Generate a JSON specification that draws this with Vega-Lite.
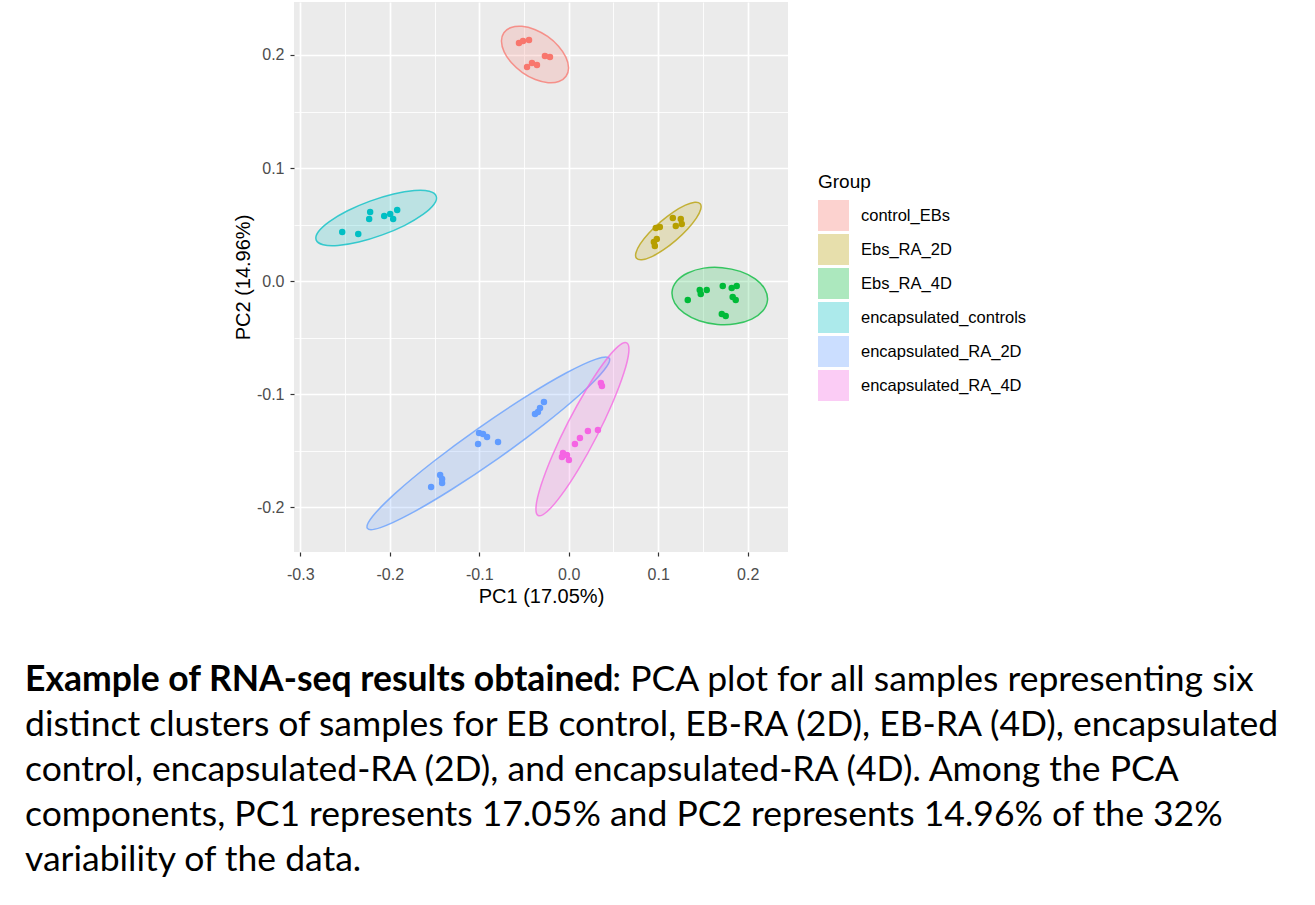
{
  "$schema": "https://vega.github.io/schema/vega-lite/v6.json",
  "autosize": {"type": "pad"},
  "padding": {"left": 25, "top": 2, "right": 0, "bottom": 0},
  "background": "white",
  "config": {"view": {"stroke": null}, "font": "Liberation Sans"},
  "bounds": "flush",
  "center": true,
  "spacing": 116,
  "datasets": {
    "points": [
      {"Group": "control_EBs", "PC1": -0.0556, "PC2": 0.2106},
      {"Group": "control_EBs", "PC1": -0.0511, "PC2": 0.2124},
      {"Group": "control_EBs", "PC1": -0.0444, "PC2": 0.2133},
      {"Group": "control_EBs", "PC1": -0.0266, "PC2": 0.1991},
      {"Group": "control_EBs", "PC1": -0.0210, "PC2": 0.1982},
      {"Group": "control_EBs", "PC1": -0.0466, "PC2": 0.1894},
      {"Group": "control_EBs", "PC1": -0.0411, "PC2": 0.1929},
      {"Group": "control_EBs", "PC1": -0.0355, "PC2": 0.1912},
      {"Group": "Ebs_RA_2D", "PC1": 0.0973, "PC2": 0.0469},
      {"Group": "Ebs_RA_2D", "PC1": 0.1018, "PC2": 0.0478},
      {"Group": "Ebs_RA_2D", "PC1": 0.0951, "PC2": 0.0345},
      {"Group": "Ebs_RA_2D", "PC1": 0.0984, "PC2": 0.0372},
      {"Group": "Ebs_RA_2D", "PC1": 0.0962, "PC2": 0.0310},
      {"Group": "Ebs_RA_2D", "PC1": 0.1163, "PC2": 0.0558},
      {"Group": "Ebs_RA_2D", "PC1": 0.1252, "PC2": 0.0549},
      {"Group": "Ebs_RA_2D", "PC1": 0.1196, "PC2": 0.0487},
      {"Group": "Ebs_RA_2D", "PC1": 0.1263, "PC2": 0.0504},
      {"Group": "Ebs_RA_4D", "PC1": 0.1330, "PC2": -0.0168},
      {"Group": "Ebs_RA_4D", "PC1": 0.1464, "PC2": -0.0080},
      {"Group": "Ebs_RA_4D", "PC1": 0.1475, "PC2": -0.0115},
      {"Group": "Ebs_RA_4D", "PC1": 0.1542, "PC2": -0.0080},
      {"Group": "Ebs_RA_4D", "PC1": 0.1721, "PC2": -0.0044},
      {"Group": "Ebs_RA_4D", "PC1": 0.1821, "PC2": -0.0062},
      {"Group": "Ebs_RA_4D", "PC1": 0.1877, "PC2": -0.0044},
      {"Group": "Ebs_RA_4D", "PC1": 0.1832, "PC2": -0.0142},
      {"Group": "Ebs_RA_4D", "PC1": 0.1866, "PC2": -0.0168},
      {"Group": "Ebs_RA_4D", "PC1": 0.1710, "PC2": -0.0292},
      {"Group": "Ebs_RA_4D", "PC1": 0.1754, "PC2": -0.0310},
      {"Group": "encapsulated_controls", "PC1": -0.2531, "PC2": 0.0434},
      {"Group": "encapsulated_controls", "PC1": -0.2352, "PC2": 0.0416},
      {"Group": "encapsulated_controls", "PC1": -0.2219, "PC2": 0.0611},
      {"Group": "encapsulated_controls", "PC1": -0.2230, "PC2": 0.0549},
      {"Group": "encapsulated_controls", "PC1": -0.2062, "PC2": 0.0575},
      {"Group": "encapsulated_controls", "PC1": -0.1995, "PC2": 0.0593},
      {"Group": "encapsulated_controls", "PC1": -0.1962, "PC2": 0.0549},
      {"Group": "encapsulated_controls", "PC1": -0.1917, "PC2": 0.0628},
      {"Group": "encapsulated_RA_2D", "PC1": -0.1538, "PC2": -0.1823},
      {"Group": "encapsulated_RA_2D", "PC1": -0.1437, "PC2": -0.1717},
      {"Group": "encapsulated_RA_2D", "PC1": -0.1415, "PC2": -0.1752},
      {"Group": "encapsulated_RA_2D", "PC1": -0.1415, "PC2": -0.1788},
      {"Group": "encapsulated_RA_2D", "PC1": -0.1002, "PC2": -0.1345},
      {"Group": "encapsulated_RA_2D", "PC1": -0.0958, "PC2": -0.1354},
      {"Group": "encapsulated_RA_2D", "PC1": -0.0913, "PC2": -0.1381},
      {"Group": "encapsulated_RA_2D", "PC1": -0.1013, "PC2": -0.1443},
      {"Group": "encapsulated_RA_2D", "PC1": -0.0790, "PC2": -0.1425},
      {"Group": "encapsulated_RA_2D", "PC1": -0.0377, "PC2": -0.1177},
      {"Group": "encapsulated_RA_2D", "PC1": -0.0344, "PC2": -0.1159},
      {"Group": "encapsulated_RA_2D", "PC1": -0.0321, "PC2": -0.1124},
      {"Group": "encapsulated_RA_2D", "PC1": -0.0277, "PC2": -0.1071},
      {"Group": "encapsulated_RA_4D", "PC1": 0.0359, "PC2": -0.0903},
      {"Group": "encapsulated_RA_4D", "PC1": 0.0371, "PC2": -0.0929},
      {"Group": "encapsulated_RA_4D", "PC1": 0.0326, "PC2": -0.1319},
      {"Group": "encapsulated_RA_4D", "PC1": 0.0214, "PC2": -0.1327},
      {"Group": "encapsulated_RA_4D", "PC1": 0.0125, "PC2": -0.1389},
      {"Group": "encapsulated_RA_4D", "PC1": 0.0069, "PC2": -0.1443},
      {"Group": "encapsulated_RA_4D", "PC1": -0.0065, "PC2": -0.1522},
      {"Group": "encapsulated_RA_4D", "PC1": -0.0076, "PC2": -0.1558},
      {"Group": "encapsulated_RA_4D", "PC1": -0.0020, "PC2": -0.1540},
      {"Group": "encapsulated_RA_4D", "PC1": 0.0002, "PC2": -0.1584}
    ],
    "ellipses": [
      {"Group": "control_EBs", "k": 0, "PC1": -0.0030, "PC2": 0.1812},
      {"Group": "control_EBs", "k": 1, "PC1": -0.0110, "PC2": 0.1765},
      {"Group": "control_EBs", "k": 2, "PC1": -0.0231, "PC2": 0.1755},
      {"Group": "control_EBs", "k": 3, "PC1": -0.0374, "PC2": 0.1783},
      {"Group": "control_EBs", "k": 4, "PC1": -0.0518, "PC2": 0.1845},
      {"Group": "control_EBs", "k": 5, "PC1": -0.0640, "PC2": 0.1931},
      {"Group": "control_EBs", "k": 6, "PC1": -0.0722, "PC2": 0.2028},
      {"Group": "control_EBs", "k": 7, "PC1": -0.0752, "PC2": 0.2122},
      {"Group": "control_EBs", "k": 8, "PC1": -0.0725, "PC2": 0.2197},
      {"Group": "control_EBs", "k": 9, "PC1": -0.0644, "PC2": 0.2244},
      {"Group": "control_EBs", "k": 10, "PC1": -0.0523, "PC2": 0.2254},
      {"Group": "control_EBs", "k": 11, "PC1": -0.0380, "PC2": 0.2226},
      {"Group": "control_EBs", "k": 12, "PC1": -0.0236, "PC2": 0.2164},
      {"Group": "control_EBs", "k": 13, "PC1": -0.0114, "PC2": 0.2078},
      {"Group": "control_EBs", "k": 14, "PC1": -0.0032, "PC2": 0.1981},
      {"Group": "control_EBs", "k": 15, "PC1": -0.0002, "PC2": 0.1887},
      {"Group": "Ebs_RA_2D", "k": 0, "PC1": 0.1469, "PC2": 0.0684},
      {"Group": "Ebs_RA_2D", "k": 1, "PC1": 0.1475, "PC2": 0.0635},
      {"Group": "Ebs_RA_2D", "k": 2, "PC1": 0.1426, "PC2": 0.0557},
      {"Group": "Ebs_RA_2D", "k": 3, "PC1": 0.1329, "PC2": 0.0461},
      {"Group": "Ebs_RA_2D", "k": 4, "PC1": 0.1200, "PC2": 0.0362},
      {"Group": "Ebs_RA_2D", "k": 5, "PC1": 0.1057, "PC2": 0.0275},
      {"Group": "Ebs_RA_2D", "k": 6, "PC1": 0.0923, "PC2": 0.0214},
      {"Group": "Ebs_RA_2D", "k": 7, "PC1": 0.0817, "PC2": 0.0188},
      {"Group": "Ebs_RA_2D", "k": 8, "PC1": 0.0757, "PC2": 0.0201},
      {"Group": "Ebs_RA_2D", "k": 9, "PC1": 0.0751, "PC2": 0.0250},
      {"Group": "Ebs_RA_2D", "k": 10, "PC1": 0.0799, "PC2": 0.0328},
      {"Group": "Ebs_RA_2D", "k": 11, "PC1": 0.0896, "PC2": 0.0424},
      {"Group": "Ebs_RA_2D", "k": 12, "PC1": 0.1025, "PC2": 0.0523},
      {"Group": "Ebs_RA_2D", "k": 13, "PC1": 0.1168, "PC2": 0.0610},
      {"Group": "Ebs_RA_2D", "k": 14, "PC1": 0.1303, "PC2": 0.0671},
      {"Group": "Ebs_RA_2D", "k": 15, "PC1": 0.1408, "PC2": 0.0697},
      {"Group": "Ebs_RA_4D", "k": 0, "PC1": 0.2221, "PC2": -0.0170},
      {"Group": "Ebs_RA_4D", "k": 1, "PC1": 0.2170, "PC2": -0.0263},
      {"Group": "Ebs_RA_4D", "k": 2, "PC1": 0.2045, "PC2": -0.0337},
      {"Group": "Ebs_RA_4D", "k": 3, "PC1": 0.1866, "PC2": -0.0379},
      {"Group": "Ebs_RA_4D", "k": 4, "PC1": 0.1660, "PC2": -0.0384},
      {"Group": "Ebs_RA_4D", "k": 5, "PC1": 0.1457, "PC2": -0.0351},
      {"Group": "Ebs_RA_4D", "k": 6, "PC1": 0.1290, "PC2": -0.0284},
      {"Group": "Ebs_RA_4D", "k": 7, "PC1": 0.1184, "PC2": -0.0195},
      {"Group": "Ebs_RA_4D", "k": 8, "PC1": 0.1154, "PC2": -0.0096},
      {"Group": "Ebs_RA_4D", "k": 9, "PC1": 0.1205, "PC2": -0.0002},
      {"Group": "Ebs_RA_4D", "k": 10, "PC1": 0.1330, "PC2": 0.0071},
      {"Group": "Ebs_RA_4D", "k": 11, "PC1": 0.1509, "PC2": 0.0114},
      {"Group": "Ebs_RA_4D", "k": 12, "PC1": 0.1715, "PC2": 0.0118},
      {"Group": "Ebs_RA_4D", "k": 13, "PC1": 0.1917, "PC2": 0.0085},
      {"Group": "Ebs_RA_4D", "k": 14, "PC1": 0.2084, "PC2": 0.0019},
      {"Group": "Ebs_RA_4D", "k": 15, "PC1": 0.2191, "PC2": -0.0071},
      {"Group": "encapsulated_controls", "k": 0, "PC1": -0.1481, "PC2": 0.0751},
      {"Group": "encapsulated_controls", "k": 1, "PC1": -0.1505, "PC2": 0.0679},
      {"Group": "encapsulated_controls", "k": 2, "PC1": -0.1628, "PC2": 0.0589},
      {"Group": "encapsulated_controls", "k": 3, "PC1": -0.1831, "PC2": 0.0493},
      {"Group": "encapsulated_controls", "k": 4, "PC1": -0.2083, "PC2": 0.0408},
      {"Group": "encapsulated_controls", "k": 5, "PC1": -0.2345, "PC2": 0.0345},
      {"Group": "encapsulated_controls", "k": 6, "PC1": -0.2578, "PC2": 0.0315},
      {"Group": "encapsulated_controls", "k": 7, "PC1": -0.2745, "PC2": 0.0321},
      {"Group": "encapsulated_controls", "k": 8, "PC1": -0.2823, "PC2": 0.0364},
      {"Group": "encapsulated_controls", "k": 9, "PC1": -0.2798, "PC2": 0.0436},
      {"Group": "encapsulated_controls", "k": 10, "PC1": -0.2675, "PC2": 0.0526},
      {"Group": "encapsulated_controls", "k": 11, "PC1": -0.2472, "PC2": 0.0622},
      {"Group": "encapsulated_controls", "k": 12, "PC1": -0.2220, "PC2": 0.0707},
      {"Group": "encapsulated_controls", "k": 13, "PC1": -0.1958, "PC2": 0.0770},
      {"Group": "encapsulated_controls", "k": 14, "PC1": -0.1726, "PC2": 0.0800},
      {"Group": "encapsulated_controls", "k": 15, "PC1": -0.1558, "PC2": 0.0794},
      {"Group": "encapsulated_RA_2D", "k": 0, "PC1": 0.0453, "PC2": -0.0683},
      {"Group": "encapsulated_RA_2D", "k": 1, "PC1": 0.0394, "PC2": -0.0790},
      {"Group": "encapsulated_RA_2D", "k": 2, "PC1": 0.0139, "PC2": -0.0996},
      {"Group": "encapsulated_RA_2D", "k": 3, "PC1": -0.0275, "PC2": -0.1269},
      {"Group": "encapsulated_RA_2D", "k": 4, "PC1": -0.0783, "PC2": -0.1567},
      {"Group": "encapsulated_RA_2D", "k": 5, "PC1": -0.1309, "PC2": -0.1845},
      {"Group": "encapsulated_RA_2D", "k": 6, "PC1": -0.1772, "PC2": -0.2061},
      {"Group": "encapsulated_RA_2D", "k": 7, "PC1": -0.2103, "PC2": -0.2182},
      {"Group": "encapsulated_RA_2D", "k": 8, "PC1": -0.2250, "PC2": -0.2189},
      {"Group": "encapsulated_RA_2D", "k": 9, "PC1": -0.2191, "PC2": -0.2082},
      {"Group": "encapsulated_RA_2D", "k": 10, "PC1": -0.1936, "PC2": -0.1877},
      {"Group": "encapsulated_RA_2D", "k": 11, "PC1": -0.1522, "PC2": -0.1604},
      {"Group": "encapsulated_RA_2D", "k": 12, "PC1": -0.1014, "PC2": -0.1306},
      {"Group": "encapsulated_RA_2D", "k": 13, "PC1": -0.0488, "PC2": -0.1028},
      {"Group": "encapsulated_RA_2D", "k": 14, "PC1": -0.0025, "PC2": -0.0812},
      {"Group": "encapsulated_RA_2D", "k": 15, "PC1": 0.0306, "PC2": -0.0691},
      {"Group": "encapsulated_RA_4D", "k": 0, "PC1": 0.0648, "PC2": -0.0548},
      {"Group": "encapsulated_RA_4D", "k": 1, "PC1": 0.0671, "PC2": -0.0631},
      {"Group": "encapsulated_RA_4D", "k": 2, "PC1": 0.0615, "PC2": -0.0817},
      {"Group": "encapsulated_RA_4D", "k": 3, "PC1": 0.0489, "PC2": -0.1079},
      {"Group": "encapsulated_RA_4D", "k": 4, "PC1": 0.0312, "PC2": -0.1376},
      {"Group": "encapsulated_RA_4D", "k": 5, "PC1": 0.0110, "PC2": -0.1664},
      {"Group": "encapsulated_RA_4D", "k": 6, "PC1": -0.0085, "PC2": -0.1897},
      {"Group": "encapsulated_RA_4D", "k": 7, "PC1": -0.0244, "PC2": -0.2042},
      {"Group": "encapsulated_RA_4D", "k": 8, "PC1": -0.0342, "PC2": -0.2075},
      {"Group": "encapsulated_RA_4D", "k": 9, "PC1": -0.0365, "PC2": -0.1992},
      {"Group": "encapsulated_RA_4D", "k": 10, "PC1": -0.0309, "PC2": -0.1806},
      {"Group": "encapsulated_RA_4D", "k": 11, "PC1": -0.0183, "PC2": -0.1544},
      {"Group": "encapsulated_RA_4D", "k": 12, "PC1": -0.0006, "PC2": -0.1247},
      {"Group": "encapsulated_RA_4D", "k": 13, "PC1": 0.0196, "PC2": -0.0960},
      {"Group": "encapsulated_RA_4D", "k": 14, "PC1": 0.0390, "PC2": -0.0726},
      {"Group": "encapsulated_RA_4D", "k": 15, "PC1": 0.0549, "PC2": -0.0581}
    ],
    "caption": [
      {"line": 1, "start": 0.569, "text": ": PCA plot for all samples representing six"},
      {"line": 2, "start": 0, "text": "distinct clusters of samples for EB control, EB-RA (2D), EB-RA (4D), encapsulated"},
      {"line": 3, "start": 0, "text": "control, encapsulated-RA (2D), and encapsulated-RA (4D). Among the PCA"},
      {"line": 4, "start": 0, "text": "components, PC1 represents 17.05% and PC2 represents 14.96% of the 32%"},
      {"line": 5, "start": 0, "text": "variability of the data."}
    ],
    "captionBold": [
      {"line": 1, "start": 0, "text": "Example of RNA-seq results obtained"}
    ]
  },
  "vconcat": [
    {
      "width": 494,
      "height": 550,
      "view": {"fill": "#EBEBEB", "stroke": null},
      "encoding": {
        "x": {
          "field": "PC1", "type": "quantitative",
          "scale": {"domain": [-0.307, 0.245], "nice": false, "zero": false},
          "axis": {
            "title": "PC1 (17.05%)",
            "values": [-0.3, -0.25, -0.2, -0.15, -0.1, -0.05, 0, 0.05, 0.1, 0.15, 0.2],
            "labelExpr": "abs(datum.value*10-round(datum.value*10))<0.001 ? replace(format(datum.value,'.1f'),'\u2212','-') : ''",
            "grid": true, "gridColor": "#FFFFFF",
            "gridWidth": {"condition": {"test": "abs(datum.value*10-round(datum.value*10))<0.001", "value": 1.7}, "value": 0.85},
            "tickColor": {"condition": {"test": "abs(datum.value*10-round(datum.value*10))<0.001", "value": "#333333"}, "value": "transparent"},
            "domain": false, "tickSize": 4, "tickWidth": 1.2,
            "labelFont": "Liberation Sans", "labelFontSize": 16, "labelColor": "#4D4D4D", "labelPadding": 10,
            "labelFlush": false, "labelOverlap": false,
            "titleFont": "Liberation Sans", "titleFontSize": 20, "titleFontWeight": "normal", "titleColor": "#000000", "titlePadding": 4
          }
        },
        "y": {
          "field": "PC2", "type": "quantitative",
          "scale": {"domain": [-0.2398, 0.2469], "nice": false, "zero": false},
          "axis": {
            "title": "PC2 (14.96%)",
            "values": [-0.2, -0.15, -0.1, -0.05, 0, 0.05, 0.1, 0.15, 0.2],
            "labelExpr": "abs(datum.value*10-round(datum.value*10))<0.001 ? replace(format(datum.value,'.1f'),'\u2212','-') : ''",
            "grid": true, "gridColor": "#FFFFFF",
            "gridWidth": {"condition": {"test": "abs(datum.value*10-round(datum.value*10))<0.001", "value": 1.7}, "value": 0.85},
            "tickColor": {"condition": {"test": "abs(datum.value*10-round(datum.value*10))<0.001", "value": "#333333"}, "value": "transparent"},
            "domain": false, "tickSize": 4, "tickWidth": 1.2,
            "labelFont": "Liberation Sans", "labelFontSize": 16, "labelColor": "#4D4D4D", "labelPadding": 6,
            "labelFlush": false, "labelOverlap": false,
            "titleFont": "Liberation Sans", "titleFontSize": 20, "titleFontWeight": "normal", "titleColor": "#000000", "titlePadding": 3
          }
        }
      },
      "layer": [
        {
          "data": {"name": "ellipses"},
          "mark": {"type": "line", "interpolate": "cardinal-closed", "fillOpacity": 0.2, "strokeWidth": 1.5, "strokeOpacity": 0.75},
          "encoding": {
            "stroke": {"field": "Group", "type": "nominal",
              "scale": {"domain": ["control_EBs", "Ebs_RA_2D", "Ebs_RA_4D", "encapsulated_controls", "encapsulated_RA_2D", "encapsulated_RA_4D"],
                        "range": ["#F8766D", "#B79F00", "#00BA38", "#00BFC4", "#619CFF", "#F564E3"]},
              "legend": {
                "title": "Group", "orient": "none", "legendX": 793, "legendY": 171,
                "padding": 0,
                "titleFont": "Liberation Sans", "titleFontSize": 19, "titleFontWeight": "normal", "titleColor": "#000000", "titlePadding": 8,
                "labelFont": "Liberation Sans", "labelFontSize": 16.5, "labelColor": "#000000", "labelOffset": 12, "labelLimit": 400,
                "symbolType": "square", "symbolSize": 870, "symbolStrokeWidth": 1.5, "symbolOpacity": 0.32, "rowPadding": -8
              }},
            "fill": {"field": "Group", "type": "nominal",
              "scale": {"domain": ["control_EBs", "Ebs_RA_2D", "Ebs_RA_4D", "encapsulated_controls", "encapsulated_RA_2D", "encapsulated_RA_4D"],
                        "range": ["#F8766D", "#B79F00", "#00BA38", "#00BFC4", "#619CFF", "#F564E3"]},
              "legend": {
                "title": "Group", "orient": "none", "legendX": 793, "legendY": 171,
                "padding": 0,
                "titleFont": "Liberation Sans", "titleFontSize": 19, "titleFontWeight": "normal", "titleColor": "#000000", "titlePadding": 8,
                "labelFont": "Liberation Sans", "labelFontSize": 16.5, "labelColor": "#000000", "labelOffset": 12, "labelLimit": 400,
                "symbolType": "square", "symbolSize": 870, "symbolStrokeWidth": 1.5, "symbolOpacity": 0.32, "rowPadding": -8
              }},
            "order": {"field": "k", "type": "quantitative"}
          }
        },
        {
          "data": {"name": "points"},
          "mark": {"type": "point", "filled": true, "size": 42, "opacity": 1},
          "encoding": {
            "color": {"field": "Group", "type": "nominal", "legend": null,
              "scale": {"domain": ["encapsulated_RA_4D", "encapsulated_RA_2D", "encapsulated_controls", "Ebs_RA_4D", "Ebs_RA_2D", "control_EBs"],
                        "range": ["#F564E3", "#619CFF", "#00BFC4", "#00BA38", "#B79F00", "#F8766D"]}}
          }
        }
      ]
    },
    {
      "width": 1032,
      "height": 225,
      "encoding": {
        "x": {"field": "start", "type": "quantitative", "scale": {"domain": [0, 1]}, "axis": null},
        "y": {"field": "line", "type": "ordinal", "scale": {"type": "point", "domain": [1, 2, 3, 4, 5], "padding": 0.5}, "axis": null},
        "text": {"field": "text", "type": "nominal"}
      },
      "layer": [
        {
          "data": {"name": "caption"},
          "mark": {"type": "text", "align": "left", "baseline": "alphabetic", "font": "Lato", "fontSize": 35.5, "color": "#000000"}
        },
        {
          "data": {"name": "captionBold"},
          "mark": {"type": "text", "align": "left", "baseline": "alphabetic", "font": "Lato", "fontSize": 35.5, "fontWeight": "bold", "color": "#000000"}
        }
      ]
    }
  ]
}
